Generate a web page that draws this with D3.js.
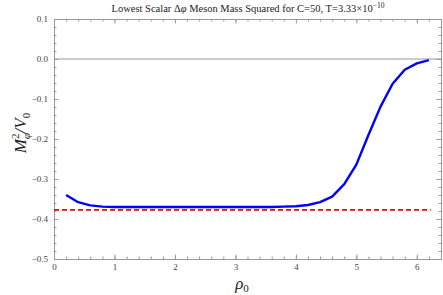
<!DOCTYPE html>
<meta charset="utf-8">
<style>
html, body { margin: 0; background: #fff; }
svg { font-family: "Liberation Serif", "DejaVu Serif", serif; }
.tick text { fill: #444; font-size: 9px; }
.frame line, .frame path { stroke: #999; }
</style>
<svg></svg>
<script src="https://d3js.org/d3.v7.min.js"></script>
<script>
// data
var rho = [0.2, 0.4, 0.6, 0.8, 1.0, 1.2, 1.4, 1.6, 1.8, 2.0, 2.2, 2.4, 2.6, 2.8, 3.0,
           3.2, 3.4, 3.6, 3.8, 4.0, 4.2, 4.4, 4.6, 4.8, 5.0, 5.2, 5.4, 5.6, 5.8, 6.0, 6.2];
var mass = [-0.340, -0.358, -0.366, -0.369, -0.370, -0.370, -0.370, -0.370, -0.370, -0.370,
            -0.370, -0.370, -0.370, -0.370, -0.370, -0.370, -0.370, -0.370, -0.369, -0.368,
            -0.365, -0.358, -0.344, -0.313, -0.264, -0.190, -0.119, -0.062, -0.027, -0.011, -0.003];
var refLevel = -0.377;
var refRange = [0, 6.23];
var xTicks = [0, 1, 2, 3, 4, 5, 6];
var yTicks = [0.1, 0.0, -0.1, -0.2, -0.3, -0.4, -0.5];

var W = 443, H = 295;
var margin = {left: 54, top: 19, right: 2, bottom: 36};

var svg = d3.select('svg').attr('width', W).attr('height', H);

var x = d3.scaleLinear().domain([0, 6.4]).range([margin.left, W - margin.right]);
var y = d3.scaleLinear().domain([-0.5, 0.1]).range([H - margin.bottom, margin.top]);

function fmtY(d) {
  var s = d3.format('.1f')(Math.abs(d));
  return d < 0 ? '\u2212' + s : s;
}

var minorX = d3.range(0, 6.41, 0.2);
var minorY = d3.range(-0.5, 0.1001, 0.02);

// frame: minor ticks
function addAxis(axis, tr, cls) {
  var g = svg.append('g').attr('class', 'frame ' + cls).attr('transform', tr).call(axis);
  g.select('.domain').attr('stroke', '#999');
  g.selectAll('.tick line').attr('stroke', '#999');
  return g;
}

addAxis(d3.axisBottom(x).tickValues(minorX).tickSize(-2.5).tickFormat(''), 'translate(0,' + y(-0.5) + ')', 'xminor');
addAxis(d3.axisTop(x).tickValues(minorX).tickSize(-2.5).tickFormat(''), 'translate(0,' + y(0.1) + ')', 'xminor');
addAxis(d3.axisLeft(y).tickValues(minorY).tickSize(-2.5).tickFormat(''), 'translate(' + x(0) + ',0)', 'yminor');
addAxis(d3.axisRight(y).tickValues(minorY).tickSize(-2.5).tickFormat(''), 'translate(' + x(6.4) + ',0)', 'yminor');

// major ticks
addAxis(d3.axisBottom(x).tickValues(xTicks).tickSize(-4.5).tickPadding(5).tickFormat(d3.format('d')), 'translate(0,' + y(-0.5) + ')', 'xmajor');
addAxis(d3.axisTop(x).tickValues(xTicks).tickSize(-4.5).tickFormat(''), 'translate(0,' + y(0.1) + ')', 'xmajor');
addAxis(d3.axisLeft(y).tickValues(yTicks).tickSize(-4.5).tickPadding(6).tickFormat(fmtY), 'translate(' + x(0) + ',0)', 'ymajor');
addAxis(d3.axisRight(y).tickValues(yTicks).tickSize(-4.5).tickFormat(''), 'translate(' + x(6.4) + ',0)', 'ymajor');

svg.selectAll('.tick text').attr('fill', '#444').style('font-size', '9px')
  .style('font-family', '"Liberation Serif", serif');

// zero line
svg.append('line')
  .attr('x1', x(0)).attr('x2', x(6.4))
  .attr('y1', y(0)).attr('y2', y(0))
  .attr('stroke', '#999').attr('stroke-width', 1);

// red dashed reference
svg.append('line')
  .attr('x1', x(refRange[0])).attr('x2', x(refRange[1]))
  .attr('y1', y(refLevel)).attr('y2', y(refLevel))
  .attr('stroke', '#ff0000').attr('stroke-width', 1.8)
  .attr('stroke-dasharray', '5,3');

// blue curve
var line = d3.line().x(function (d, i) { return x(rho[i]); }).y(function (d) { return y(d); });
svg.append('path')
  .datum(mass)
  .attr('d', line)
  .attr('fill', 'none')
  .attr('stroke', '#0000ff')
  .attr('stroke-width', 2.4)
  .attr('stroke-linejoin', 'round');

// title
var title = svg.append('text')
  .attr('x', 248).attr('y', 12)
  .attr('text-anchor', 'middle')
  .style('font-size', '10.5px')
  .attr('fill', '#222');
title.append('tspan').text('Lowest Scalar \u0394');
title.append('tspan').style('font-style', 'italic').text('\u03c6');
title.append('tspan').text(' Meson Mass Squared for C=50, T=3.33\u00d710');
title.append('tspan').attr('dy', -4).style('font-size', '7.5px').text('\u221210');

// y label
var yl = svg.append('text')
  .attr('transform', 'translate(26,' + 133 + ') rotate(-90)')
  .attr('text-anchor', 'middle')
  .style('font-size', '17px')
  .style('font-style', 'italic')
  .attr('fill', '#222');
yl.append('tspan').text('M');
yl.append('tspan').attr('dy', 4).style('font-size', '11px').text('\u03c6');
yl.append('tspan').attr('dy', -11).attr('dx', -6).style('font-size', '11px').style('font-style', 'normal').text('2');
yl.append('tspan').attr('dy', 7).text('/V');
yl.append('tspan').attr('dy', 4).style('font-size', '11px').style('font-style', 'normal').text('0');

// x label
var xl = svg.append('text')
  .attr('x', 242).attr('y', 289)
  .attr('text-anchor', 'middle')
  .style('font-size', '17px')
  .style('font-style', 'italic')
  .attr('fill', '#222');
xl.append('tspan').text('\u03c1');
xl.append('tspan').attr('dy', 3).style('font-size', '11px').style('font-style', 'normal').text('0');
</script>
